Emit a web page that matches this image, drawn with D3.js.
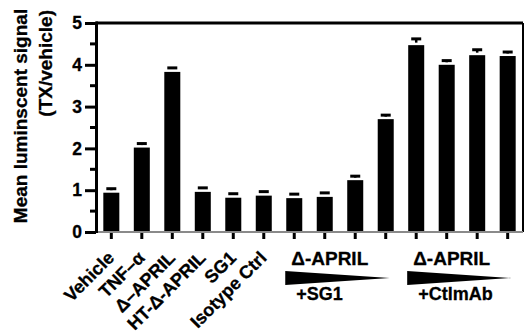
<!DOCTYPE html>
<html>
<head>
<meta charset="utf-8">
<script src="https://cdn.jsdelivr.net/npm/d3@7"></script>
<style>
  body { margin: 0; background: #fff; }
  text { font-family: "Liberation Sans", Arial, sans-serif; font-weight: bold; stroke: #000; stroke-width: 0.3; }
</style>
</head>
<body>
<div id="chart"></div>
<script>
// data
var groups = ["b1","b2","b3","b4","b5","b6","b7","b8","b9","b10","b11","b12","b13","b14"];
var means  = [0.94, 2.02, 3.83, 0.96, 0.82, 0.87, 0.81, 0.84, 1.24, 2.70, 4.47, 4.00, 4.23, 4.21];
var errs   = [0.07, 0.07, 0.05, 0.05, 0.05, 0.04, 0.06, 0.06, 0.08, 0.08, 0.15, 0.10, 0.13, 0.08];
var tickLabels = ["Vehicle", "TNF\u2013\u03b1", "\u0394\u2013APRIL", "HT-\u0394-APRIL", "SG1", "Isotype Ctrl"];
var yTicks = [0, 1, 2, 3, 4, 5];
var treatGroups = [
  {top: "\u0394-APRIL", bottom: "+SG1", from: 6, to: 9},
  {top: "\u0394-APRIL", bottom: "+CtlmAb", from: 10, to: 13}
];

var W = 524, H = 331;
var margin = {top: 23, right: 1, bottom: 99, left: 96};
var width = W - margin.left - margin.right,
    height = H - margin.top - margin.bottom;

var svg = d3.select("#chart").append("svg")
    .attr("width", W)
    .attr("height", H);
var g = svg.append("g")
    .attr("transform", "translate(" + margin.left + "," + margin.top + ")");

var x = d3.scaleBand()
  .domain(groups)
  .range([0, width])
  .paddingInner(0.475)
  .paddingOuter(0.24);

var y = d3.scaleLinear()
  .domain([0, 5])
  .range([height, 0]);

// frame top + right
g.append("line").attr("x1", 0).attr("x2", width).attr("y1", 0).attr("y2", 0)
  .attr("stroke", "#000").attr("stroke-width", 3);
g.append("line").attr("x1", width).attr("x2", width).attr("y1", 0).attr("y2", height)
  .attr("stroke", "#000").attr("stroke-width", 2);

// bars
g.selectAll(".bar")
  .data(means)
  .enter().append("rect")
    .attr("class", "bar")
    .attr("x", function(d, i) { return x(groups[i]); })
    .attr("y", function(d) { return y(d); })
    .attr("width", x.bandwidth())
    .attr("height", function(d) { return height - y(d); })
    .attr("fill", "#000");

// error bars (stem starts a little above the bar, white gap)
var eb = g.selectAll(".err")
  .data(means)
  .enter().append("g")
    .attr("class", "err")
    .attr("transform", function(d, i) { return "translate(" + (x(groups[i]) + x.bandwidth() / 2) + ",0)"; });
eb.append("line")
  .attr("y1", function(d) { return y(d) - 2.5; })
  .attr("y2", function(d, i) { return Math.min(y(d + errs[i]), y(d) - 2.5); })
  .attr("stroke", "#000").attr("stroke-width", 2.5);
eb.append("line")
  .attr("x1", -5).attr("x2", 5)
  .attr("y1", function(d, i) { return Math.min(y(d + errs[i]), y(d) - 4); })
  .attr("y2", function(d, i) { return Math.min(y(d + errs[i]), y(d) - 4); })
  .attr("stroke", "#000").attr("stroke-width", 3);

// x axis line (grey) and ticks
g.append("line").attr("x1", 0).attr("x2", width).attr("y1", height).attr("y2", height)
  .attr("stroke", "#8a8a8a").attr("stroke-width", 2);
g.selectAll(".xt")
  .data(groups)
  .enter().append("line")
    .attr("x1", function(d) { return x(d) + x.bandwidth() / 2; })
    .attr("x2", function(d) { return x(d) + x.bandwidth() / 2; })
    .attr("y1", height + 1).attr("y2", height + 7)
    .attr("stroke", "#000").attr("stroke-width", 3);

// x tick labels, rotated
g.selectAll(".xl")
  .data(tickLabels)
  .enter().append("text")
    .attr("text-anchor", "end")
    .attr("font-size", 18)
    .attr("transform", function(d, i) {
      return "translate(" + (x(groups[i]) + x.bandwidth() / 2 + 4) + "," + (height + 27) + ") rotate(-45)";
    })
    .text(function(d) { return d; });

// y axis
var yAxis = g.append("g")
  .call(d3.axisLeft(y).tickValues(yTicks).tickSize(11).tickFormat(d3.format("d")));
yAxis.select(".domain").attr("stroke-width", 3).attr("d", "M0.5," + (height + 1) + "V-1.5");
yAxis.selectAll(".tick line").attr("stroke-width", 3);
yAxis.selectAll(".tick text").attr("font-size", 17.5).attr("font-family", "Liberation Sans, Arial, sans-serif")
  .attr("font-weight", "bold").attr("x", -14);
// minor ticks
g.selectAll(".minor")
  .data(d3.range(0.5, 5, 1))
  .enter().append("line")
    .attr("x1", -6).attr("x2", 0)
    .attr("y1", function(d) { return y(d); })
    .attr("y2", function(d) { return y(d); })
    .attr("stroke", "#000").attr("stroke-width", 3);

// y title
svg.append("text")
  .attr("transform", "translate(27,116) rotate(-90)")
  .attr("text-anchor", "middle")
  .attr("font-size", 19)
  .text("Mean luminscent signal");
svg.append("text")
  .attr("transform", "translate(52,10) rotate(-90)")
  .attr("text-anchor", "end")
  .attr("font-size", 19)
  .text("(TX/vehicle)");

// treatment annotations
var ann = g.selectAll(".ann")
  .data(treatGroups)
  .enter().append("g")
    .attr("class", "ann");
ann.append("text")
  .attr("x", function(d) { return x(groups[d.from]) + 5; })
  .attr("y", height + 33)
  .attr("font-size", 19)
  .text(function(d) { return d.top; });
ann.append("path")
  .attr("d", function(d) {
    var x0 = x(groups[d.from]) - 1, x1 = x(groups[d.to]) + x.bandwidth() - 4;
    return "M" + x0 + "," + (height + 39) + "L" + x1 + "," + (height + 46) + "L" + x0 + "," + (height + 53) + "Z";
  })
  .attr("fill", "#000");
ann.append("text")
  .attr("x", function(d) { return x(groups[d.from]) + 10; })
  .attr("y", height + 68)
  .attr("font-size", 18)
  .text(function(d) { return d.bottom; });
</script>
</body>
</html>
